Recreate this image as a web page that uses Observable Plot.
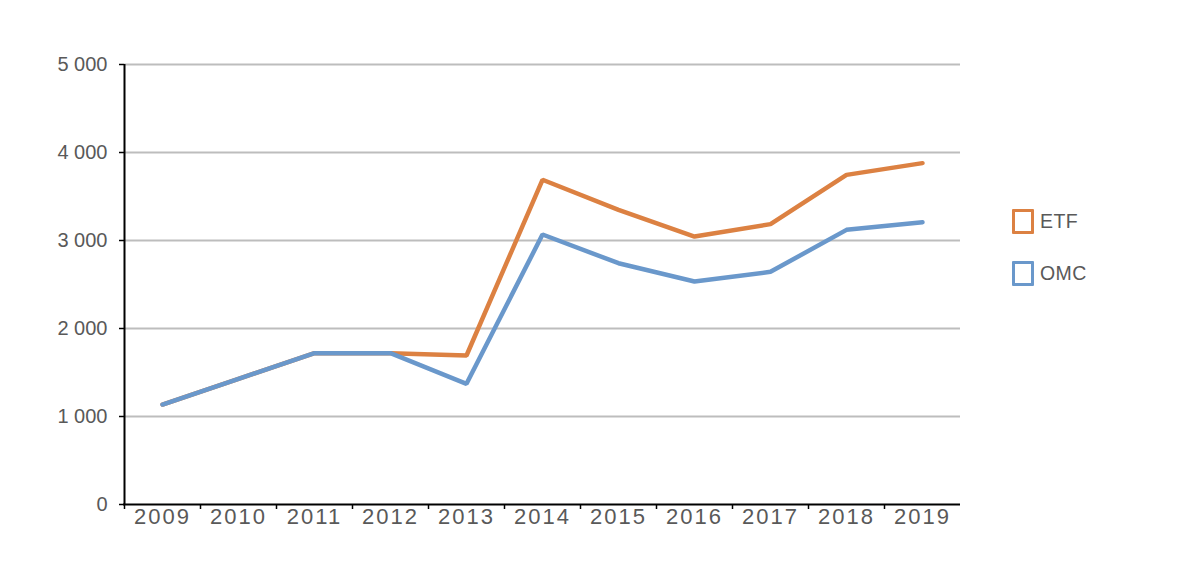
<!DOCTYPE html>
<html>
<head>
<meta charset="utf-8">
<script src="https://cdn.jsdelivr.net/npm/d3@7"></script>
<script src="https://cdn.jsdelivr.net/npm/@observablehq/plot@0.6"></script>
<style>
  html, body { margin: 0; padding: 0; background: #fff; }
  #wrap { position: relative; width: 1200px; height: 563px; font-family: "Liberation Sans", Arial, sans-serif; }
  .legend { position: absolute; left: 1012px; color: #595959; font-size: 19.5px; display: flex; align-items: center; letter-spacing: 0.4px; }
  .legend .sw { width: 16px; height: 19px; border: 3px solid; box-sizing: content-box; margin-right: 6px; border-radius: 1px; }
  g[aria-label="x-axis tick label"] text { letter-spacing: 2px; }
</style>
</head>
<body>
<div id="wrap"></div>
<script>
const years = ["2009","2010","2011","2012","2013","2014","2015","2016","2017","2018","2019"];
const etf = [1136, 1428, 1720, 1720, 1693, 3690, 3349, 3045, 3186, 3746, 3879];
const omc = [1136, 1428, 1720, 1720, 1371, 3068, 2742, 2534, 2644, 3121, 3208];
const seriesNames = ["ETF", "OMC"];
const seriesColors = ["#dc8142", "#6a98cb"];
const yTicks = [0, 1000, 2000, 3000, 4000, 5000];

const data = [];
years.forEach((y, i) => {
  data.push({year: y, value: etf[i], series: "ETF"});
  data.push({year: y, value: omc[i], series: "OMC"});
});

const W = 1200, H = 563, ML = 124, MR = 240, MT = 64, MB = 59;
const half = (W - ML - MR) / years.length / 2;
const fmt = d => d3.format(",")(d).replace(/,/g, " ");

const chart = Plot.plot({
  width: W, height: H,
  marginLeft: ML, marginRight: MR, marginTop: MT, marginBottom: MB,
  style: {fontFamily: '"Liberation Sans", Arial, sans-serif', background: "#fff"},
  x: {type: "point", domain: years, padding: 0.5},
  y: {domain: [0, 5000]},
  color: {domain: seriesNames, range: seriesColors},
  marks: [
    Plot.gridY(yTicks.filter(d => d > 0), {stroke: "#bdbdbd", strokeOpacity: 1, strokeWidth: 1.8}),
    Plot.axisY(yTicks, {tickFormat: fmt, tickSize: 5, tickPadding: 12, fontSize: 20, color: "#595959", stroke: "#000", strokeWidth: 1.5, label: null}),
    Plot.axisX({tickSize: 0, tickPadding: 3.5, fontSize: 22, color: "#595959", label: null}),
    Plot.axisX({tickSize: 5, tickFormat: () => "", dx: -half, stroke: "#000", strokeWidth: 1.5, label: null}),
    Plot.ruleX([years[0]], {y1: 0, y2: 5000, dx: -half, stroke: "#000", strokeWidth: 2}),
    Plot.ruleY([0], {stroke: "#000", strokeWidth: 2, insetLeft: -1}),
    Plot.line(data.filter(d => d.series === "ETF"), {x: "year", y: "value", stroke: "series", strokeWidth: 4.5, strokeLinejoin: "miter", strokeLinecap: "round"}),
    Plot.line(data.filter(d => d.series === "OMC"), {x: "year", y: "value", stroke: "series", strokeWidth: 4.5, strokeLinejoin: "miter", strokeLinecap: "round"})
  ]
});

const wrap = document.getElementById("wrap");
wrap.appendChild(chart);

const legendTops = [209, 261];
seriesNames.forEach((name, i) => {
  const item = document.createElement("div");
  item.className = "legend";
  item.style.top = legendTops[i] + "px";
  const sw = document.createElement("div");
  sw.className = "sw";
  sw.style.borderColor = seriesColors[i];
  const t = document.createElement("span");
  t.textContent = name;
  item.appendChild(sw);
  item.appendChild(t);
  wrap.appendChild(item);
});
</script>
</body>
</html>
